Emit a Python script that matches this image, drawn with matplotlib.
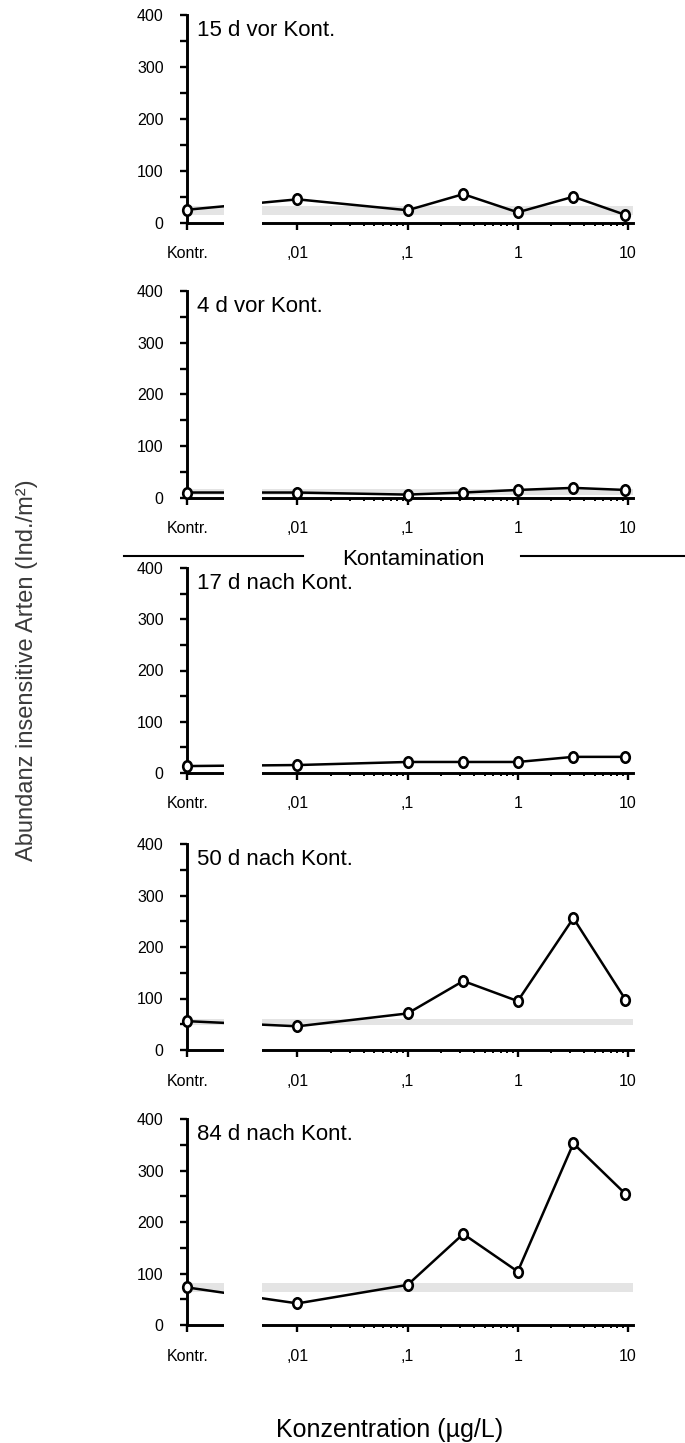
import numpy as np
import matplotlib
matplotlib.use('Agg')
import matplotlib.pyplot as plt
from matplotlib.path import Path
from matplotlib.lines import Line2D
from matplotlib.patches import Rectangle
from matplotlib.ticker import FixedLocator, FixedFormatter, NullFormatter

plt.rcParams['font.family'] = ['Liberation Sans', 'DejaVu Sans']

# Konzentrationen (Kontrolle auf 0,001 gelegt)
konz = [0.001, 0.01, 0.1, 0.32, 1, 3.2, 9.5]
konz_ticks = [0.001, 0.01, 0.1, 1, 10]
konz_labels = ['Kontr.', ',01', ',1', '1', '10']

titel = ['15 d vor Kont.', '4 d vor Kont.', '17 d nach Kont.',
         '50 d nach Kont.', '84 d nach Kont.']

# Abundanz insensitive Arten (Ind./m2)
abund_15v = [25, 45, 24, 55, 20, 50, 15]
abund_4v = [10, 10, 6, 10, 15, 19, 15]
abund_17n = [13, 15, 21, 21, 21, 31, 31]
abund_50n = [56, 46, 71, 134, 95, 256, 98]
abund_84n = [73, 42, 78, 177, 104, 353, 255]
abundanzen = [abund_15v, abund_4v, abund_17n, abund_50n, abund_84n]

# Schwankungsbereich der Kontrollen (grauer Balken)
bereich = [(15, 32), (5, 16), None, (49, 60), (65, 81)]

W, H = 685, 1443
# Lage der Panels in Pixeln (oben = 400, unten = 0)
panel_px = [(15, 222.7), (291, 497.7), (568.3, 772.7), (844, 1050), (1119.3, 1325)]
x_links, x_breite = 187.3, 446

fig = plt.figure(figsize=(W / 100, H / 100), dpi=100)

# Ellipsen-Marker (etwas schmaler als hoch)
kreis = Path.unit_circle()
ellipse = Path(kreis.vertices * np.array([0.82, 1.0]), kreis.codes)

minor = [k * 10.0 ** d for d in (-2, -1, 0) for k in range(2, 10)]

for i in range(5):
    oben, unten = panel_px[i]
    ax = fig.add_axes([x_links / W, 1 - unten / H, x_breite / W, (unten - oben) / H])
    ax.set_xscale('log')
    ax.set_xlim(0.001, 11.2)
    ax.set_ylim(0, 400)

    if bereich[i] is not None:
        ax.axhspan(bereich[i][0], bereich[i][1], color='#e4e4e4', lw=0, zorder=1)

    ax.plot(konz, abundanzen[i], color='black', lw=1.8, marker=ellipse, ms=7.5,
            mfc='white', mec='black', mew=1.9, zorder=4, clip_on=False)

    # Achsenbruch zwischen Kontrolle und ,01
    ax.add_patch(Rectangle((0.00217, -0.03), 0.00481 - 0.00217, 0.4,
                           transform=ax.get_xaxis_transform(), facecolor='white',
                           edgecolor='none', zorder=5, clip_on=False))

    for s in ['top', 'right']:
        ax.spines[s].set_visible(False)
    for s in ['left', 'bottom']:
        ax.spines[s].set_linewidth(2.1)

    ax.yaxis.set_major_locator(FixedLocator([0, 100, 200, 300, 400]))
    ax.yaxis.set_minor_locator(FixedLocator([50, 150, 250, 350]))
    ax.xaxis.set_major_locator(FixedLocator(konz_ticks))
    ax.xaxis.set_major_formatter(FixedFormatter(konz_labels))
    ax.xaxis.set_minor_locator(FixedLocator(minor))
    ax.xaxis.set_minor_formatter(NullFormatter())

    ax.tick_params(axis='y', which='both', direction='out', length=5, width=1.7,
                   labelsize=11.5, pad=12)
    ax.tick_params(axis='x', which='major', direction='out', length=5, width=1.7,
                   labelsize=11.5, pad=12)
    ax.tick_params(axis='x', which='minor', direction='out', length=2.5, width=1.4)

    ax.text(0.022, 0.90, titel[i], transform=ax.transAxes, fontsize=16, va='baseline')

# Markierung der Kontamination
y_kont = 1 - 555.7 / H
fig.add_artist(Line2D([124 / W, 303 / W], [y_kont, y_kont], color='black', lw=1.5))
fig.add_artist(Line2D([521 / W, 1.0], [y_kont, y_kont], color='black', lw=1.5))
fig.text(413 / W, 1 - 565 / H, 'Kontamination', ha='center', va='baseline', fontsize=16)

fig.text(27 / W, 1 - 670 / H, 'Abundanz insensitive Arten (Ind./m²)', rotation=90,
         ha='center', va='center', fontsize=17, color='#3a3a3a')
fig.text(390 / W, 1 - 1437 / H, 'Konzentration (µg/L)', ha='center', va='baseline',
         fontsize=18)

fig.savefig('out.png', dpi=100)
